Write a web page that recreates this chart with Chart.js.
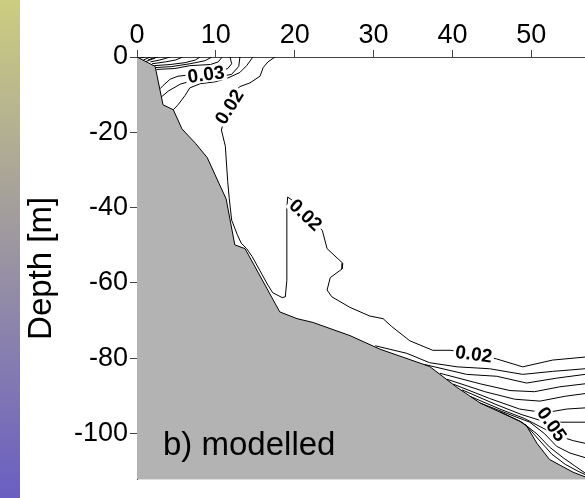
<!DOCTYPE html>
<html>
<head>
<meta charset="utf-8">
<script src="https://cdn.jsdelivr.net/npm/chart.js@4/dist/chart.umd.min.js"></script>
<style>
  body { margin: 0; background: #fff; }
  #wrap { position: relative; width: 585px; height: 498px; }
  #strip { position: absolute; left: 0; top: 0; width: 20px; height: 498px;
           background: linear-gradient(to bottom, #cdcd80, #6a5ec2); }
  canvas { position: absolute; left: 0; top: 0; }
</style>
</head>
<body>
<div id="wrap">
  <div id="strip"></div>
  <canvas id="sectionChart" width="585" height="498"></canvas>
</div>
<script>
// axis ticks
const xTicks = [0, 10, 20, 30, 40, 50];
const yTicks = [0, -20, -40, -60, -80, -100];

// seabed profile (distance, depth)
const bed = [[0, 0], [2.3, -2.5], [3.3, -12.7], [4.6, -14.0], [5.7, -19.1], [7.4, -22.9],
  [8.9, -26.7], [9.9, -31.3], [11.3, -37.7], [12.4, -49.9], [13.7, -50.9], [18.1, -67.7],
  [20.3, -69.5], [22.3, -70.5], [27.0, -74.0], [30.8, -77.6], [37.1, -82.2], [40.6, -87.8],
  [43.5, -91.9], [48.5, -96.7], [49.4, -98.0], [50.7, -102.6], [52.3, -106.9], [55.3, -110.3],
  [56.8, -111.5]];

// contour lines near the surface corner
const h1 = [[0.4, -0.25], [1.0, 0]];
const h2 = [[0.8, -0.8], [1.7, 0]];
const h3 = [[1.1, -1.2], [2.3, -0.3]];
const c1 = [[1.4, -0.8], [2.0, -0.3], [2.7, 0]];
const c2 = [[1.7, -1.3], [2.9, -0.8], [4.2, 0]];
const c3 = [[1.9, -1.8], [3.6, -1.3], [4.9, -0.8], [5.8, 0]];
const c4 = [[2.2, -2.3], [4.2, -2.0], [6.1, -1.5], [7.4, -0.8], [8.0, 0]];
const c5 = [[2.4, -2.8], [4.4, -2.55], [6.7, -1.8], [8.6, -1.0], [9.5, 0]];
const c6 = [[2.45, -3.3], [4.8, -3.06], [6.7, -2.3], [9.3, -2.0], [10.3, -1.3], [10.8, 0]];
const c03 = [[2.95, -8.4], [3.3, -7.6], [4.2, -5.9], [5.2, -5.1], [8.6, -4.3], [11.5, -3.1], [12.0, -1.8], [11.8, 0]];
const c7 = [[3.15, -10.5], [4.0, -9.0], [5.5, -7.2], [7.0, -6.3], [9.5, -5.6], [12.0, -4.6], [12.9, -2.5], [13.05, 0]];
const c8 = [[4.6, -14.0], [5.2, -12.7], [6.1, -10.2], [6.7, -8.2], [8.0, -7.1], [9.9, -6.6],
  [11.5, -5.6], [13.05, -4.1], [13.9, -2.3], [14.7, 0]];

// main 0.02 contour
const c02 = [[17.5, 0], [16.6, -1.3], [16.0, -2.8], [15.6, -5.1], [14.3, -6.9], [13.0, -7.9],
  [11.8, -11.0], [10.7, -19.4], [11.2, -23.7], [11.5, -33.1], [11.7, -37.7], [12.0, -43.3],
  [12.7, -47.1], [13.2, -49.4], [13.9, -50.9], [14.6, -53.0], [15.6, -56.8], [16.6, -60.6],
  [17.2, -62.6], [18.4, -63.9], [18.8, -63.7], [19.0, -59.3], [19.0, -49.2], [19.0, -40.2],
  [19.1, -37.2], [20.7, -39.5], [23.5, -46.1], [24.1, -50.9], [26.1, -54.8], [26.0, -56.3],
  [24.5, -58.6], [24.1, -61.9], [24.7, -63.7], [27.0, -66.5], [29.5, -68.8], [31.2, -69.5],
  [32.3, -71.6], [34.6, -75.4], [37.5, -77.9], [39.7, -77.9], [42.8, -78.7], [45.6, -80.2],
  [48.9, -82.3], [52.7, -80.5], [56.8, -79.7]];

// contours fanning out over the deep slope
const fB = [[30.2, -76.7], [34.2, -78.7], [37.1, -81.2], [40.6, -82.3], [44.7, -82.8], [48.9, -84.3], [52.7, -83.5], [56.8, -82.8]];
const fC = [[36.5, -81.7], [41.8, -84.3], [45.6, -84.8], [49.4, -86.6], [53.2, -85.3], [56.8, -84.3]];
const fD = [[38.4, -84.0], [43.5, -86.8], [47.3, -88.6], [50.4, -88.9], [53.6, -87.6], [56.8, -86.8]];
const fE = [[39.3, -85.6], [44.1, -88.9], [47.9, -90.9], [51.1, -91.4], [54.3, -90.1], [56.8, -89.4]];
const fF = [[40.1, -86.9], [44.7, -90.7], [48.5, -93.5], [51.7, -94.5], [54.5, -93.5], [56.8, -93.2]];
const fG = [[41.2, -88.4], [45.4, -92.2], [48.8, -95.0], [51.1, -96.5], [53.6, -97.0], [56.8, -97.0]];
const fH = [[42.2, -90.1], [46.0, -93.5], [49.1, -96.0], [51.5, -98.6], [53.4, -100.6], [55.3, -101.9], [56.8, -102.6]];
const fI = [[43.5, -91.9], [47.3, -95.0], [49.8, -97.0], [51.7, -100.1], [53.2, -103.4], [54.9, -105.2], [56.8, -106.4]];
const fJ = [[46.0, -94.2], [48.8, -97.0], [50.7, -100.1], [52.3, -103.6], [54.0, -106.4], [55.5, -108.6], [56.8, -110.5]];
const fK = [[49.2, -97.5], [51.1, -102.0], [52.6, -105.5], [54.3, -108.2], [55.9, -110.0], [56.8, -110.9]];

const contours = [h1, h2, h3, c1, c2, c3, c4, c5, c6, c03, c7, c8, c02,
  fB, fC, fD, fE, fF, fG, fH, fI, fJ, fK];

// contour labels: value, position, angle (deg)
const contourLabels = [
  { text: '0.03', x: 8.75, y: -4.6, angle: -8 },
  { text: '0.02', x: 11.7, y: -13.2, angle: -58 },
  { text: '0.02', x: 21.4, y: -41.9, angle: 43 },
  { text: '0.02', x: 42.7, y: -78.9, angle: 8 },
  { text: '0.05', x: 52.6, y: -97.5, angle: 55 }
];

const FONT = "'Liberation Sans', Arial, sans-serif";
const pts = arr => arr.map(p => ({ x: p[0], y: p[1] }));

// draws contour labels and the panel caption
const overlay = {
  id: 'overlay',
  afterDatasetsDraw(chart) {
    const { ctx, chartArea } = chart;
    const xs = chart.scales.x, ys = chart.scales.y;
    ctx.save();
    ctx.font = 'bold 19px ' + FONT;
    ctx.textAlign = 'center';
    ctx.textBaseline = 'middle';
    contourLabels.forEach(l => {
      ctx.save();
      ctx.translate(xs.getPixelForValue(l.x), ys.getPixelForValue(l.y));
      ctx.rotate(l.angle * Math.PI / 180);
      const w = ctx.measureText(l.text).width;
      ctx.fillStyle = '#fff';
      ctx.fillRect(-w / 2 - 2, -8, w + 4, 16);
      ctx.fillStyle = '#000';
      ctx.fillText(l.text, 0, 1);
      ctx.restore();
    });
    ctx.font = '33px ' + FONT;
    ctx.textAlign = 'left';
    ctx.textBaseline = 'alphabetic';
    ctx.fillStyle = '#000';
    ctx.fillText('b) modelled', chartArea.left + 26, chartArea.bottom - 25);
    ctx.restore();
  }
};

const datasets = contours.map(c => ({
  data: pts(c),
  borderColor: '#000',
  borderWidth: 1,
  pointRadius: 0,
  fill: false,
  order: 0
}));
datasets.push({
  data: pts(bed),
  borderColor: '#000',
  borderWidth: 1,
  backgroundColor: '#b3b3b3',
  pointRadius: 0,
  fill: 'start',
  order: 1
});

Chart.defaults.font.family = FONT;

new Chart(document.getElementById('sectionChart'), {
  type: 'line',
  data: { datasets },
  options: {
    responsive: false,
    animation: false,
    layout: { padding: 0, autoPadding: false },
    plugins: { legend: { display: false }, tooltip: { enabled: false } },
    scales: {
      x: {
        type: 'linear',
        position: 'top',
        min: 0,
        max: 56.8,
        afterBuildTicks: s => { s.ticks = xTicks.map(v => ({ value: v })); },
        afterFit: s => { s.height = 57; },
        ticks: { color: '#000', font: { size: 27 }, padding: -2, maxRotation: 0 },
        grid: { drawOnChartArea: false, drawTicks: true, tickLength: 7, color: '#444' },
        border: { display: true, color: '#444', width: 1 }
      },
      y: {
        type: 'linear',
        position: 'left',
        min: -112.3,
        max: 0,
        afterBuildTicks: s => { s.ticks = yTicks.map(v => ({ value: v })); },
        afterFit: s => { s.width = 137; },
        ticks: { color: '#000', font: { size: 27 }, padding: 2 },
        grid: { drawOnChartArea: false, drawTicks: true, tickLength: 7, color: '#444' },
        border: { display: true, color: '#000', width: 1 },
        title: {
          display: true,
          text: 'Depth [m]',
          color: '#000',
          font: { size: 33, lineHeight: 1.2 },
          padding: { top: 22, bottom: 0 }
        }
      }
    }
  },
  plugins: [overlay]
});
</script>
</body>
</html>
